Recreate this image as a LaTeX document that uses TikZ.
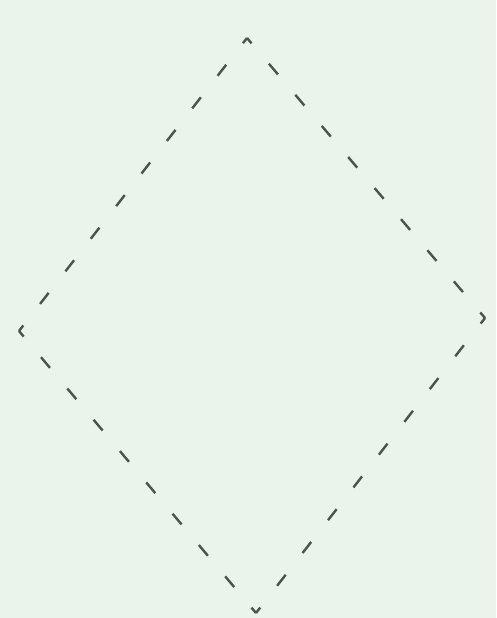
\documentclass[tikz,border=0pt]{standalone}
\definecolor{bg}{HTML}{EAF4EA}
\definecolor{ln}{HTML}{4A544C}
\tikzset{edge/.style={draw=ln,line width=2.4pt,dash pattern=on 14pt off #1,dash phase=7pt,line cap=butt}}
\begin{document}
\begin{tikzpicture}[x=1pt,y=-1pt]
\fill[bg] (0,0) rectangle (496,618);
\useasboundingbox (0,0) rectangle (496,618);
\coordinate (t) at (247,38);
\coordinate (r) at (485,318);
\coordinate (b) at (256,613);
\coordinate (l) at (19,331);
\draw[edge=26.8pt] (t) -- (r);
\draw[edge=27.5pt] (r) -- (b);
\draw[edge=26.9pt] (b) -- (l);
\draw[edge=27.3pt] (l) -- (t);
\end{tikzpicture}
\end{document}
